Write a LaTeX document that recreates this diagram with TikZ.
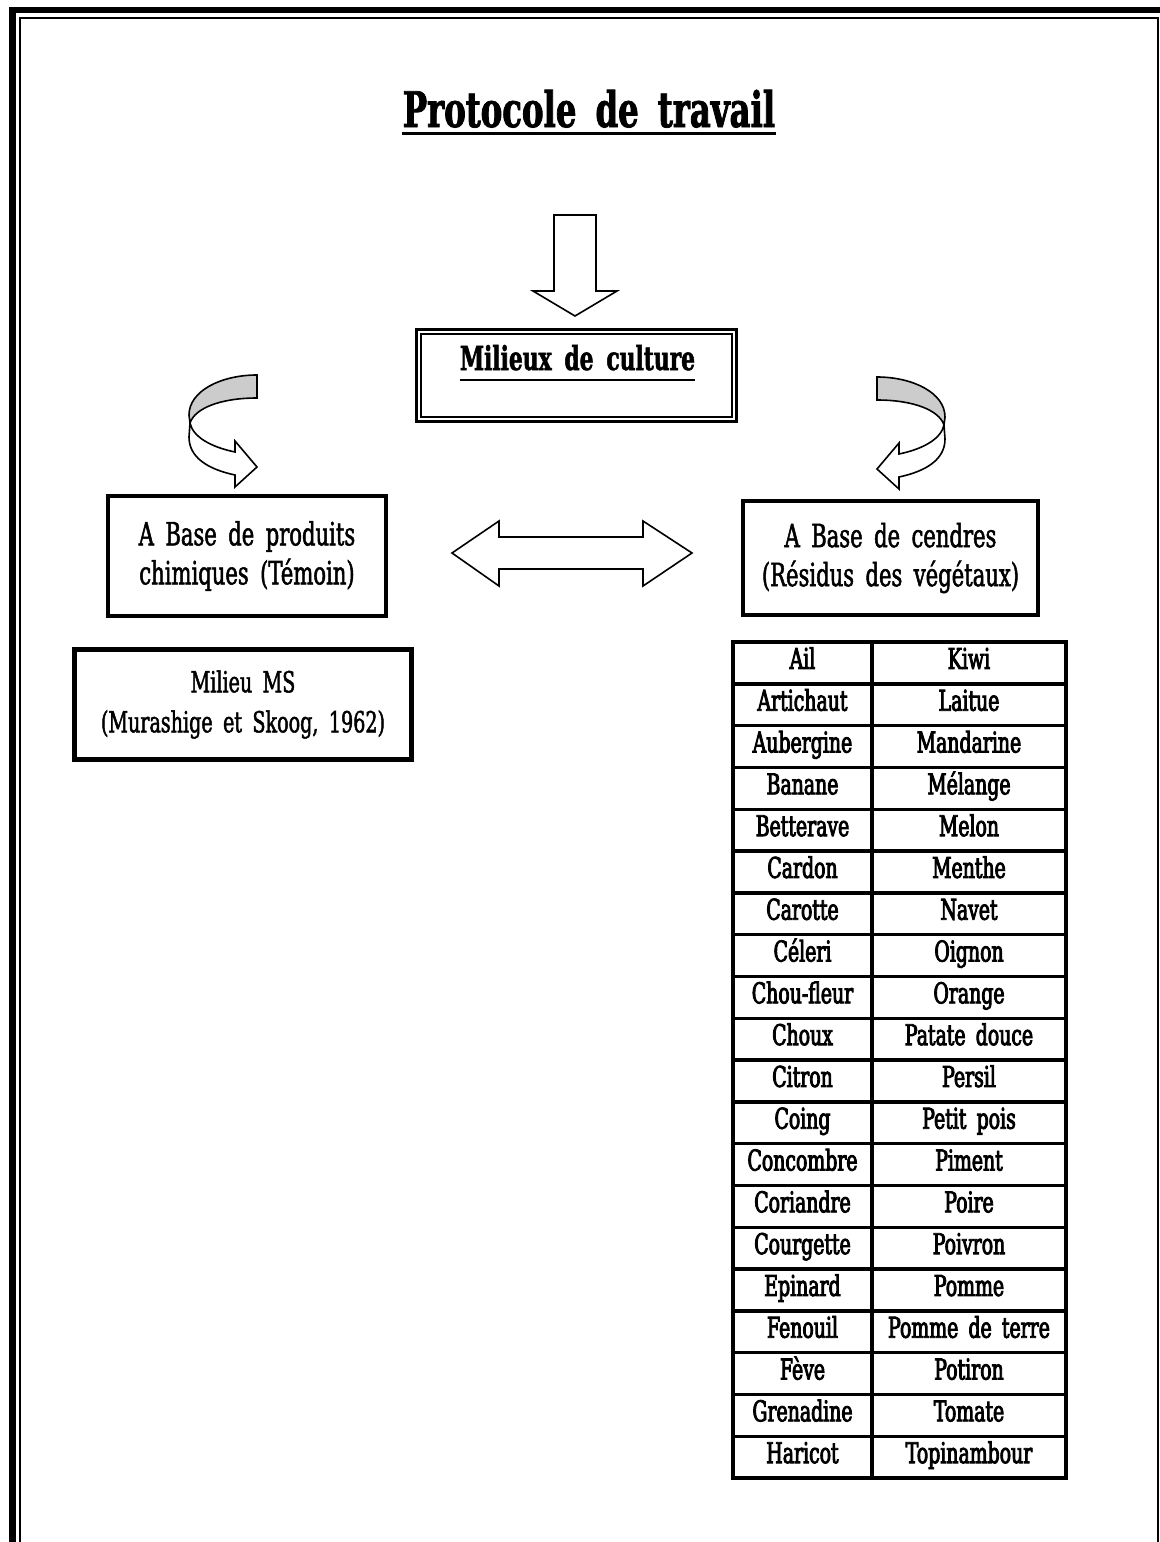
\documentclass[tikz,border=0pt]{standalone}
\usepackage{fontspec}
\setmainfont{DejaVu Serif}[FakeStretch=0.66, WordSpace=1.7, FakeBold=1.6]
\usepackage{tikz}
\definecolor{ribbongray}{RGB}{204,204,204}

\tikzset{
  boxed/.style={draw, line width=2pt, align=center, font=\fontsize{16}{19.5}\selectfont},
  cell/.style={font=\fontsize{14.3}{16}\selectfont\addfontfeatures{FakeBold=3}, text height=10.5pt, text depth=4.5pt, inner sep=0pt},
  tabline/.style={line width=1.7pt},
  blockarrow/.style={draw, line width=0.8pt, line join=miter, fill=white},
  pics/curvearrow/.style={code={
    \draw[blockarrow, fill=ribbongray] (0,0) -- (0,23) .. controls (-36,23) and (-62,33) .. (-67,48) -- (-68,40) .. controls (-68,16) and (-36,0) .. (0,0) -- cycle;
    \draw[blockarrow] (-67,48) .. controls (-64,62) and (-46,72) .. (-22,77) -- (-22,66) -- (0,92) -- (-22,112) -- (-22,100) .. controls (-50,94) and (-68,82) .. (-68,62) -- cycle;
  }}
}

\begin{document}
\begin{tikzpicture}[x=0.5pt, y=-0.5pt]
            \useasboundingbox (0,0) rectangle (1160,1542);

            % Page border
            \draw[line width=3.3pt] (12.5,1542) -- (12.5,10) -- (1160,10);
            \draw[line width=1pt] (20,1542) -- (20,18) -- (1158,18) -- (1158,1542);

            % Title
            \node[font=\bfseries\fontsize{24.5}{28}\selectfont, inner sep=0pt, anchor=base] (title) at (589,127) {Protocole de travail};
            \draw[line width=1.5pt] ([yshift=-3.2pt]title.base west) -- ([yshift=-3.2pt]title.base east);

            % Milieux de culture
            \draw[blockarrow] (554,215) -- (596,215) -- (596,291) -- (617,291) -- (575,316) -- (533,291) -- (554,291) -- cycle;
            \node[draw, line width=1.5pt, minimum width=160pt, minimum height=46pt] (milieux) at (576.5,375.5) {};
            \draw[line width=0.8pt] ([shift={(3pt,-3pt)}]milieux.north west) rectangle ([shift={(-3pt,3pt)}]milieux.south east);
            \node[font=\bfseries\fontsize{16.5}{19}\selectfont, inner sep=0pt, anchor=base] (milieuxtxt) at (577.5,370) {Milieux de culture};
            \draw[line width=1pt] ([yshift=-5pt]milieuxtxt.base west) -- ([yshift=-5pt]milieuxtxt.base east);

            % Curved arrows
            \pic at (257,375) {curvearrow};
            \pic[xscale=-1] at (877,377) {curvearrow};

            % Two media
            \node[boxed, minimum width=139pt, minimum height=60pt] (chimique) at (247,556) {A Base de produits\\chimiques (Témoin)};
            \node[boxed, minimum width=147.5pt, minimum height=57pt] (cendres) at (890.5,558) {A Base de cendres\\(Résidus des végétaux)};
            \draw[blockarrow] (452,553) -- (499,521) -- (499,537) -- (643,537) -- (643,521) -- (692,553) -- (643,586) -- (643,569) -- (499,569) -- (499,586) -- cycle;

            \node[boxed, line width=2.3pt, minimum width=168.5pt, minimum height=55pt, font=\fontsize{14.5}{20}\selectfont] (milieums) at (243,704.5) {Milieu MS\\(Murashige et Skoog, 1962)};

            % Table of plant residues
            \foreach \a/\b [count=\i] in {Ail/Kiwi, Artichaut/Laitue, Aubergine/Mandarine, Banane/Mélange, Betterave/Melon, Cardon/Menthe, Carotte/Navet, Céleri/Oignon, Chou-fleur/Orange, Choux/Patate douce, Citron/Persil, Coing/Petit pois, Concombre/Piment, Coriandre/Poire, Courgette/Poivron, Epinard/Pomme, Fenouil/Pomme de terre, Fève/Potiron, Grenadine/Tomate, Haricot/Topinambour} {
                \node[cell] (l\i) at (802.5,{642+41.8*(\i-0.5)}) {\a};
                \node[cell] (r\i) at (969,{642+41.8*(\i-0.5)}) {\b};
            }
            \foreach \i in {1,...,19}
                \draw[tabline] (733,{642+41.8*\i}) -- (1066,{642+41.8*\i});
            \draw[tabline] (733,642) rectangle (1066,1478);
            \draw[tabline] (872,642) -- (872,1478);
        \end{tikzpicture}
\end{document}
